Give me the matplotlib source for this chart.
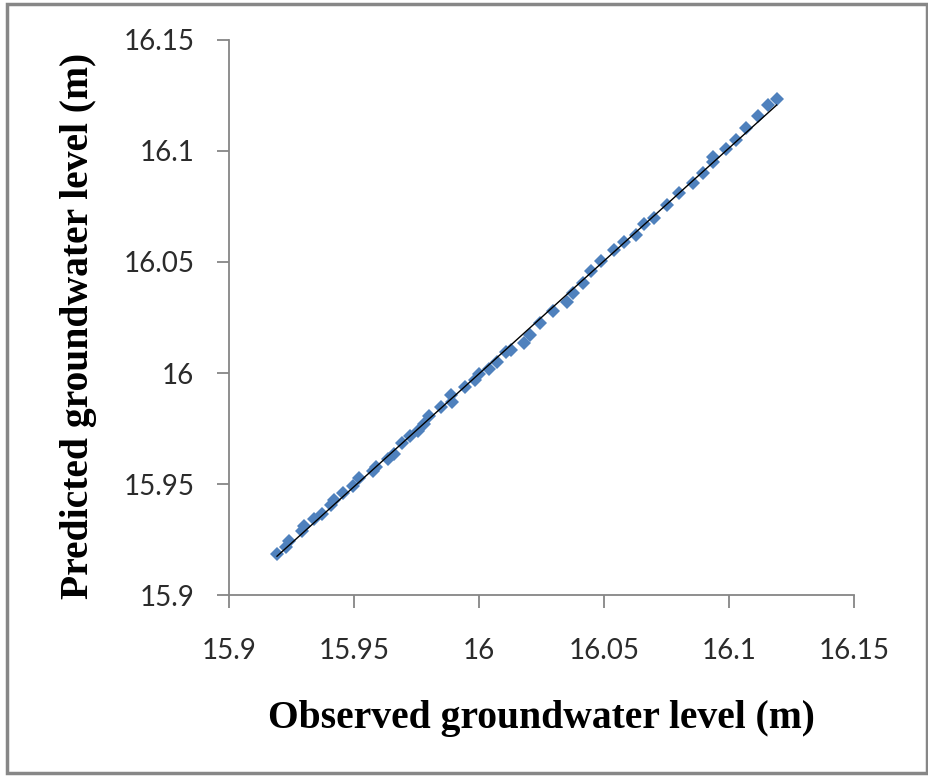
import matplotlib.pyplot as plt
from matplotlib.patches import Rectangle
import numpy as np

# observed vs predicted groundwater level (m)
observed = [15.9192, 15.9228, 15.9241, 15.9293, 15.9301, 15.9339, 15.9371, 15.9407,
            15.9420, 15.9456, 15.9497, 15.9521, 15.9578, 15.9590, 15.9635, 15.9660,
            15.9692, 15.9725, 15.9757, 15.9779, 15.9801, 15.9847, 15.9888, 15.9893,
            15.9945, 15.9985, 16.0002, 16.0039, 16.0072, 16.0107, 16.0127, 16.0181,
            16.0205, 16.0246, 16.0295, 16.0352, 16.0376, 16.0417, 16.0450, 16.0490,
            16.0539, 16.0580, 16.0629, 16.0661, 16.0702, 16.0751, 16.0800, 16.0857,
            16.0897, 16.0935, 16.0938, 16.0987, 16.1028, 16.1068, 16.1117, 16.1158,
            16.1191]
predicted = [15.9186, 15.9217, 15.9245, 15.9287, 15.9311, 15.9342, 15.9365, 15.9404,
             15.9427, 15.9458, 15.9489, 15.9528, 15.9559, 15.9578, 15.9613, 15.9637,
             15.9683, 15.9714, 15.9738, 15.9769, 15.9807, 15.9846, 15.9901, 15.9870,
             15.9935, 15.9970, 15.9994, 16.0017, 16.0048, 16.0095, 16.0102, 16.0137,
             16.0172, 16.0227, 16.0281, 16.0320, 16.0359, 16.0405, 16.0460, 16.0506,
             16.0553, 16.0592, 16.0623, 16.0669, 16.0700, 16.0755, 16.0809, 16.0856,
             16.0902, 16.0949, 16.0972, 16.1011, 16.1050, 16.1104, 16.1158, 16.1205,
             16.1236]
ticks = [15.9, 15.95, 16.0, 16.05, 16.1, 16.15]
tick_labels = ["15.9", "15.95", "16", "16.05", "16.1", "16.15"]

fig = plt.figure(figsize=(9.29, 7.78), dpi=100)
ax = fig.add_axes([0.2465, 0.2352, 0.6727, 0.7134])

ax.plot(observed, predicted, linestyle="none", marker="D", markersize=7,
        color="#4F81BD", markeredgewidth=0, zorder=2)

# linear trend line over the data range
slope, intercept = np.polyfit(observed, predicted, 1)
xs = np.array([min(observed), max(observed)])
ax.plot(xs, slope * xs + intercept, color="black", linewidth=1.0, zorder=3)

ax.set_xlim(15.9, 16.15)
ax.set_ylim(15.9, 16.15)
ax.set_xticks(ticks)
ax.set_xticklabels(tick_labels)
ax.set_yticks(ticks)
ax.set_yticklabels(tick_labels)

for side in ("top", "right"):
    ax.spines[side].set_visible(False)
for side in ("left", "bottom"):
    ax.spines[side].set_color("#868686")
    ax.spines[side].set_linewidth(1.3)

ax.tick_params(axis="both", direction="out", length=9, width=1.3, color="#868686",
               labelcolor="#2b2b2b", labelsize=20)
ax.tick_params(axis="x", pad=22)
ax.tick_params(axis="y", pad=16)
for lab in ax.get_xticklabels() + ax.get_yticklabels():
    lab.set_fontfamily("Lato")

ax.set_xlabel("Observed groundwater level (m)", fontfamily="Liberation Serif",
              fontweight="bold", fontsize=28.5, labelpad=26)
ax.set_ylabel("Predicted groundwater level (m)", fontfamily="Liberation Serif",
              fontweight="bold", fontsize=28.5)
ax.yaxis.set_label_coords(-0.212, 0.485)

# grey frame around the whole chart
fig.patches.append(Rectangle((0.0075, 0.006), 0.9905, 0.989, transform=fig.transFigure,
                             fill=False, edgecolor="#878787", linewidth=2.5))

fig.savefig("out.png", dpi=100)
